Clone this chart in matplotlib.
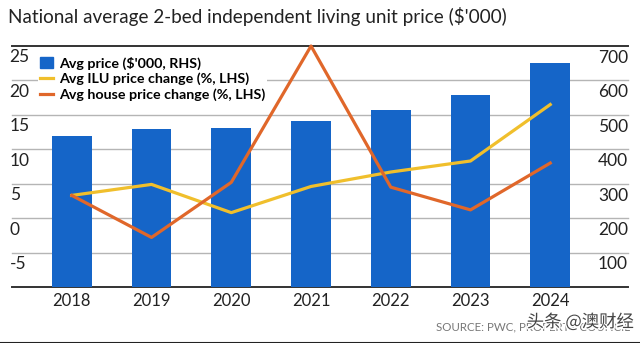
import numpy as np
import matplotlib.pyplot as plt
from matplotlib.lines import Line2D
from matplotlib.patches import Patch
import matplotlib.patheffects as pe

years = ['2018', '2019', '2020', '2021', '2022', '2023', '2024']
avg_price = [438, 459, 462, 483, 514, 559, 652]          # $'000, RHS
ilu_change = [3.3, 4.9, 0.8, 4.6, 6.7, 8.3, 16.5]        # %, LHS
house_change = [3.3, -2.8, 5.2, 25.0, 4.5, 1.2, 8.0]     # %, LHS
left_ticks = [-5, 0, 5, 10, 15, 20, 25]
right_ticks = [100, 200, 300, 400, 500, 600, 700]

blue = '#1565c8'
yellow = '#f0bf2c'
orange = '#e0672a'

plt.rcParams['font.family'] = ['Lato', 'DejaVu Sans']

fig = plt.figure(figsize=(6.4, 3.43), dpi=100)
ax2 = fig.add_axes([12/640, 56/343, 616/640, 241/343])
ax = ax2.twinx()

x = np.arange(len(years))
ax2.bar(x, avg_price, width=0.5, color=blue, zorder=2)
ax2.set_ylim(0, 700)
ax2.set_xlim(-0.75, 6.975)

ax.plot(x, ilu_change, color=yellow, lw=2.3, zorder=3, clip_on=False)
ax.plot(x, house_change, color=orange, lw=2.3, zorder=3, clip_on=False)
ax.set_ylim(-10, 25)

# gridlines
for v in range(-10, 26, 5):
    c = '#333333' if v in (-10, 25) else '#b5b5b5'
    w = 1.4 if v in (-10, 25) else 1.0
    ax2.axhline((v + 10) * 20, color=c, lw=w, zorder=1, clip_on=False)

for a in (ax, ax2):
    for s in a.spines.values():
        s.set_visible(False)
    a.set_yticks([])
    a.tick_params(length=0)

ax2.set_xticks(x, years, fontsize=12)
ax2.tick_params(axis='x', pad=4, colors='#222222')

# tick labels sit below their gridline
for v in left_ticks:
    ax.text(-0.78, v - 0.5, str(v), ha='left', va='top', fontsize=12.5, color='#222222')
for v in right_ticks:
    ax2.text(6.975, v - 11, str(v), ha='right', va='top', fontsize=12.5, color='#222222')

handles = [Patch(color=blue), Line2D([], [], color=yellow, lw=2.3),
           Line2D([], [], color=orange, lw=2.3)]
labels = ["Avg price ($'000, RHS)", 'Avg ILU price change (%, LHS)',
          'Avg house price change (%, LHS)']
leg = ax.legend(handles, labels, loc='upper left', bbox_to_anchor=(0.03, 0.995),
                frameon=True, framealpha=1, edgecolor='none',
                prop={'weight': 'bold', 'size': 10.3}, handlelength=0.9,
                handletextpad=0.45, labelspacing=0.2, borderpad=0.15)
leg.get_frame().set_boxstyle('square', pad=0)
leg.set_zorder(5)

fig.text(8/640, 1 - 17/343, "National average 2-bed independent living unit price ($'000)",
         ha='left', va='center', fontsize=13.6, color='#222222')

fig.text(630/640, 1 - 327/343, 'SOURCE: PWC, PROPERTY COUNCIL', ha='right', va='center',
         fontsize=8.3, color='#777777')
fig.text(634/640, 1 - 322/343, '头条 @澳财经', ha='right', va='center', fontsize=12.5,
         color='#444444', family=['Noto Sans CJK SC', 'DejaVu Sans'],
         path_effects=[pe.withStroke(linewidth=2, foreground='white')])

fig.add_artist(Line2D([0, 1], [0.5/343, 0.5/343], color='#222222', lw=1.5))

fig.savefig('out.png', dpi=100)
